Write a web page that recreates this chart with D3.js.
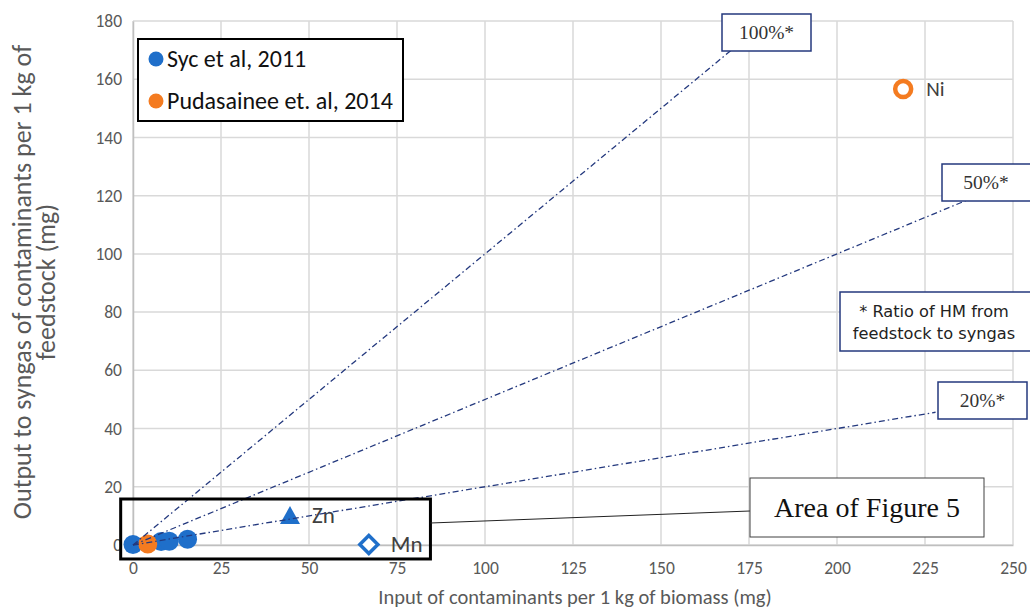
<!DOCTYPE html>
<html>
<head>
<meta charset="utf-8">
<script src="https://cdn.jsdelivr.net/npm/d3@7"></script>
<style>
  body { margin: 0; background: #fff; }
  svg { display: block; font-family: Calibri, Carlito, Lato, sans-serif; }
</style>
</head>
<body>
<svg id="chart" width="1030" height="610"></svg>
<script>
// data
const sycX = [0, 8, 10.3, 15.5];
const sycY = [0.2, 1.2, 1.3, 2.0];
const pudX = [4.2];
const pudY = [0.35];

const elemNames = ["Zn", "Mn", "Ni"];
const elemX = [44.6, 67, 218.8];
const elemY = [10.3, 0.2, 156.6];
const elemSeries = ["syc", "syc", "pud"];
const elemShape = ["triangle", "diamond", "circle"];

const ratios = [1, 0.5, 0.2];
const ratioEndX = [170, 238, 228];
const ratioLabels = ["100%*", "50%*", "20%*"];

const xTicks = d3.range(0, 251, 25);
const yTicks = d3.range(0, 181, 20);

const areaX = [-3.5, 84.5];
const areaY = [-4.8, 15.8];

const legendNames = ["Syc et al, 2011", "Pudasainee et. al, 2014"];

const colors = { syc: "#1f6fca", pud: "#f47b20" };
const navy = "#24397e";

const svg = d3.select('#chart');

const x = d3.scaleLinear().domain([0, 250]).range([133, 1013]);
const y = d3.scaleLinear().domain([0, 180]).range([545, 21]);

// grid
let grid = svg.append('g');
grid.selectAll('line.v').data(xTicks).join('line')
    .attr('x1', d => x(d)).attr('x2', d => x(d))
    .attr('y1', y(0)).attr('y2', y(180))
    .attr('stroke', '#d9d9d9').attr('stroke-width', 1.5);
grid.selectAll('line.h').data(yTicks).join('line')
    .attr('y1', d => y(d)).attr('y2', d => y(d))
    .attr('x1', x(0)).attr('x2', x(250))
    .attr('stroke', '#d9d9d9').attr('stroke-width', 1.5);

// axes (labels only, lines come from the grid)
let xAxis = svg.append('g').attr('transform', `translate(0,${y(0)})`)
    .call(d3.axisBottom(x).tickValues(xTicks).tickSize(0).tickPadding(17));
let yAxis = svg.append('g').attr('transform', `translate(${x(0)},0)`)
    .call(d3.axisLeft(y).tickValues(yTicks).tickSize(0).tickPadding(11));
[xAxis, yAxis].forEach(a => {
    a.select('.domain').attr('stroke', '#bfbfbf').attr('stroke-width', 1.5);
    a.selectAll('text').attr('fill', '#595959')
        .style('font-family', 'Calibri, Carlito, Lato, sans-serif')
        .style('font-size', '17.5px');
});

// axis titles
svg.append('text')
    .attr('x', 575).attr('y', 604)
    .attr('text-anchor', 'middle')
    .attr('fill', '#595959').style('font-size', '20.5px')
    .text('Input of contaminants per 1 kg of biomass (mg)');

let yTitle = svg.append('text')
    .attr('transform', 'translate(0,282) rotate(-90)')
    .attr('text-anchor', 'middle')
    .attr('fill', '#595959').style('font-size', '26px');
yTitle.append('tspan').attr('x', 0).attr('y', 31).text('Output to syngas of contaminants per 1 kg of');
yTitle.append('tspan').attr('x', 0).attr('y', 55).text('feedstock (mg)');

// series points
let sycPts = sycX.map((d, i) => ({ x: d, y: sycY[i], s: 'syc' }));
let pudPts = pudX.map((d, i) => ({ x: d, y: pudY[i], s: 'pud' }));
svg.append('g').selectAll('circle')
    .data(sycPts.concat(pudPts))
    .join('circle')
    .attr('cx', d => x(d.x)).attr('cy', d => y(d.y))
    .attr('r', 9.5)
    .attr('fill', d => colors[d.s]);

// named elements with their own markers
let elems = elemNames.map((n, i) => ({ name: n, x: elemX[i], y: elemY[i], s: elemSeries[i], shape: elemShape[i] }));
let eg = svg.append('g').selectAll('g').data(elems).join('g')
    .attr('transform', d => `translate(${x(d.x)},${y(d.y)})`);
eg.each(function(d) {
    let g = d3.select(this);
    let c = colors[d.s];
    if (d.shape === 'triangle') {
        g.append('path').attr('d', 'M0,-9 L10,9 L-10,9 Z').attr('fill', c);
    } else if (d.shape === 'diamond') {
        g.append('path').attr('d', 'M0,-9 L9,0 L0,9 L-9,0 Z')
            .attr('fill', 'white').attr('stroke', c).attr('stroke-width', 3.5);
    } else {
        g.append('circle').attr('r', 8).attr('fill', 'white')
            .attr('stroke', c).attr('stroke-width', 4.5);
    }
});
eg.append('text')
    .attr('x', d => d.shape === 'circle' ? 23 : 22)
    .attr('y', 0).attr('dy', '0.35em')
    .attr('fill', '#404040')
    .style('font-size', d => d.shape === 'circle' ? '21px' : '23px')
    .text(d => d.name);

// ratio lines
let ratioData = ratios.map((r, i) => ({ r: r, end: ratioEndX[i], label: ratioLabels[i] }));
svg.append('g').selectAll('line').data(ratioData).join('line')
    .attr('x1', x(0)).attr('y1', y(0))
    .attr('x2', d => x(d.end)).attr('y2', d => y(d.end * d.r))
    .attr('stroke', navy).attr('stroke-width', 1.3)
    .attr('stroke-dasharray', '6,3,1.5,3');

// ratio label boxes
const ratioBoxes = [
    { x: 722, y: 14, w: 89, h: 37 },
    { x: 942, y: 164, w: 100, h: 37 },
    { x: 938, y: 382, w: 89, h: 37 }
];
let rb = svg.append('g').selectAll('g').data(ratioData).join('g');
rb.append('rect')
    .attr('x', (d, i) => ratioBoxes[i].x).attr('y', (d, i) => ratioBoxes[i].y)
    .attr('width', (d, i) => ratioBoxes[i].w).attr('height', (d, i) => ratioBoxes[i].h)
    .attr('fill', 'white').attr('stroke', navy).attr('stroke-width', 1.5);
rb.append('text')
    .attr('x', (d, i) => i === 1 ? 986 : ratioBoxes[i].x + ratioBoxes[i].w / 2)
    .attr('y', (d, i) => ratioBoxes[i].y + ratioBoxes[i].h / 2)
    .attr('dy', '0.35em').attr('text-anchor', 'middle')
    .attr('fill', '#333')
    .style('font-family', '"Palatino Linotype", "Book Antiqua", "Liberation Serif", serif')
    .style('font-size', '19.5px')
    .text(d => d.label);

// note box
svg.append('rect').attr('x', 840).attr('y', 292).attr('width', 195).attr('height', 59)
    .attr('fill', 'white').attr('stroke', navy).attr('stroke-width', 1.5);
let note = svg.append('text').attr('text-anchor', 'middle').attr('fill', '#222')
    .style('font-family', 'Tahoma, "DejaVu Sans", sans-serif').style('font-size', '16.2px');
note.append('tspan').attr('x', 934).attr('y', 317).text('* Ratio of HM from');
note.append('tspan').attr('x', 934).attr('y', 339).text('feedstock to syngas');

// area of figure 5
svg.append('rect')
    .attr('x', x(areaX[0])).attr('y', y(areaY[1]))
    .attr('width', x(areaX[1]) - x(areaX[0])).attr('height', y(areaY[0]) - y(areaY[1]))
    .attr('fill', 'none').attr('stroke', 'black').attr('stroke-width', 3);
svg.append('line')
    .attr('x1', x(areaX[1])).attr('y1', 523).attr('x2', 750).attr('y2', 511)
    .attr('stroke', '#222').attr('stroke-width', 1);
svg.append('rect').attr('x', 750).attr('y', 478).attr('width', 234).attr('height', 59)
    .attr('fill', 'white').attr('stroke', '#404040').attr('stroke-width', 1);
svg.append('text').attr('x', 867).attr('y', 517).attr('text-anchor', 'middle')
    .attr('fill', '#111')
    .style('font-family', '"Palatino Linotype", "Book Antiqua", "Liberation Serif", serif')
    .style('font-size', '28px')
    .text('Area of Figure 5');

// legend
let legend = svg.append('g');
legend.append('rect').attr('x', 138).attr('y', 39).attr('width', 265).attr('height', 82)
    .attr('fill', 'white').attr('stroke', 'black').attr('stroke-width', 2);
legend.selectAll('g').data(legendNames).join(enter => {
    let g = enter.append('g').attr('transform', (d, i) => `translate(156,${59 + i * 42})`);
    g.append('circle').attr('r', 7.5).attr('fill', (d, i) => i === 0 ? colors.syc : colors.pud);
    g.append('text').attr('x', 11).attr('dy', '0.35em')
        .attr('fill', '#111').style('font-size', '24px')
        .text(d => d);
});
</script>
</body>
</html>
